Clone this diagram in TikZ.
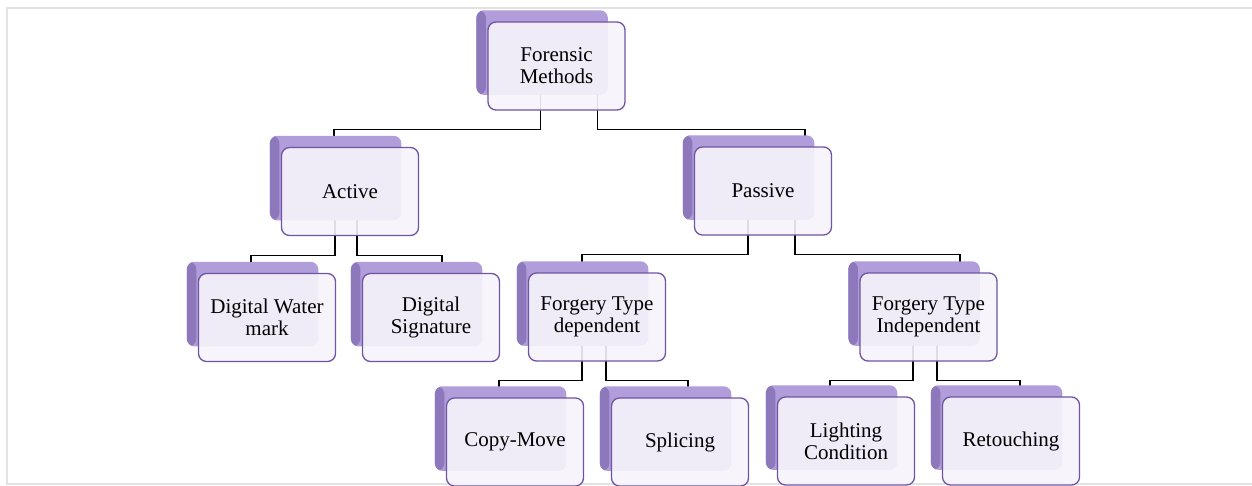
\documentclass[tikz,border=0pt]{standalone}
\usepackage{fontspec}
\setmainfont{Liberation Serif}
\newfontfamily\boxfont{Liberation Serif}
\usetikzlibrary{positioning,calc,shadows,backgrounds}
\definecolor{boxline}{RGB}{112,84,164}
\definecolor{boxfill}{RGB}{246,244,251}
\definecolor{shadefill}{RGB}{176,157,218}
\definecolor{shadeedge}{RGB}{140,120,186}
\definecolor{framegray}{RGB}{226,226,226}
\tikzset{
method/.style={draw=boxline,line width=1.3pt,rounded corners=8pt,fill=boxfill,fill opacity=.9,text opacity=1,
  minimum width=137pt,minimum height=88pt,align=center,font=\boxfont\fontsize{21}{22}\selectfont,
  general shadow={shadow xshift=-15pt,shadow yshift=14pt,shadow scale=.96,fill=shadefill,fill opacity=1,draw=none,
    path picture={\fill[shadeedge] (path picture bounding box.north west) rectangle ([xshift=10pt]path picture bounding box.south west);}}},
link/.style={line width=1.2pt,black},
frame/.style={line width=1.5pt,framegray}
}
% parent, child, parent x offset, child x offset
\newcommand{\elbow}[4]{
\coordinate (pout) at ($(#1.center)+(#3,0)$);
\coordinate (cin) at ($(#2.center)+(#4,0)$);
\coordinate (bar) at ($(#1.south)+(0,19)$);
\draw[link] (pout) -- (pout |- bar) -| (cin);
}
\begin{document}
\begin{tikzpicture}[x=1pt,y=-1pt]
\clip (0,0) rectangle (1252,485);
\draw[frame] (1252,8) -- (7,8) -- (7,484) -- (1252,484);
\node[method] (forensic) at (556.5,66) {Forensic\\Methods};
\node[method] (active) at (350,191.5) {Active};
\node[method] (passive) at (763,191) {Passive};
\node[method] (water) at (267,317.5) {Digital Water\\mark};
\node[method] (signature) at (431,317.5) {Digital\\Signature};
\node[method] (dependent) at (597,317) {Forgery Type\\dependent};
\node[method] (independent) at (928.5,317) {Forgery Type\\Independent};
\node[method] (copymove) at (515,442) {Copy-Move};
\node[method] (splicing) at (680,442) {Splicing};
\node[method] (lighting) at (846,441) {Lighting\\Condition};
\node[method] (retouching) at (1011,441) {Retouching};
\begin{scope}[on background layer]
\elbow{forensic}{active}{-16}{-16}
\elbow{forensic}{passive}{41}{42}
\elbow{active}{water}{-15}{-16}
\elbow{active}{signature}{7}{11}
\elbow{passive}{dependent}{-15}{-15}
\elbow{passive}{independent}{32}{31.5}
\elbow{dependent}{copymove}{-15}{-16}
\elbow{dependent}{splicing}{9}{8}
\elbow{independent}{lighting}{-15.5}{-16}
\elbow{independent}{retouching}{8.5}{9}
\end{scope}
\end{tikzpicture}
\end{document}
